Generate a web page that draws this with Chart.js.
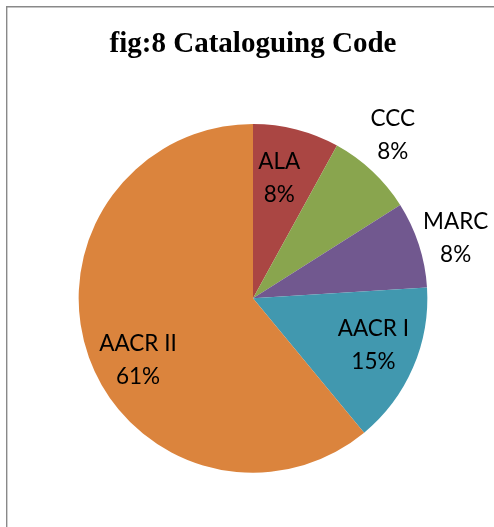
<!DOCTYPE html>
<html>
<head>
<meta charset="utf-8">
<script src="https://cdn.jsdelivr.net/npm/chart.js@4/dist/chart.umd.min.js"></script>
<style>
html,body{margin:0;padding:0;background:#fff;}
#wrap{width:494px;height:527px;position:relative;}
</style>
</head>
<body>
<div id="wrap"><canvas id="c" width="494" height="527"></canvas></div>
<script>
const categories = ["ALA", "CCC", "MARC", "AACR I", "AACR II"];
const percentages = [8, 8, 8, 15, 61];
const sliceColors = ["#AA4643", "#89A54E", "#71588F", "#4198AF", "#DB843D"];
const chartTitle = "fig:8 Cataloguing Code";

// label placement (radius fraction of pie, plus small nudges)
const labelRadius = [0.72, 1.23, 1.21, 0.74, 0.75];
const labelNudgeX = [-5, -7, 2, 2, 8];
const labelNudgeY = [1, -7, 5, -4, 18];

const frame = {
  id: 'frame',
  beforeDraw(chart) {
    const ctx = chart.ctx;
    ctx.save();
    ctx.fillStyle = '#fff';
    ctx.fillRect(0, 0, chart.width, chart.height);
    ctx.strokeStyle = '#898989';
    ctx.lineWidth = 1.4;
    ctx.beginPath();
    ctx.moveTo(6.7, chart.height);
    ctx.lineTo(6.7, 6.7);
    ctx.lineTo(chart.width, 6.7);
    ctx.stroke();
    ctx.restore();
  }
};

const sliceLabels = {
  id: 'sliceLabels',
  afterDatasetsDraw(chart) {
    const ctx = chart.ctx;
    const meta = chart.getDatasetMeta(0);
    ctx.save();
    ctx.fillStyle = '#000';
    ctx.font = '22.5px Lato';
    ctx.textAlign = 'center';
    ctx.textBaseline = 'middle';
    meta.data.forEach((arc, i) => {
      const p = arc.getProps(['x', 'y', 'startAngle', 'endAngle', 'outerRadius'], true);
      const mid = (p.startAngle + p.endAngle) / 2;
      const r = p.outerRadius * labelRadius[i];
      const cx = p.x + Math.cos(mid) * r + labelNudgeX[i];
      const cy = p.y + Math.sin(mid) * r + labelNudgeY[i];
      ctx.fillText(categories[i], cx, cy - 16.5);
      ctx.fillText(percentages[i] + '%', cx, cy + 16.5);
    });
    ctx.restore();
  }
};

new Chart(document.getElementById('c'), {
  type: 'pie',
  data: {
    labels: categories,
    datasets: [{
      data: percentages,
      backgroundColor: sliceColors,
      borderWidth: 0
    }]
  },
  options: {
    responsive: false,
    animation: false,
    layout: { padding: { left: 78.5, right: 66.5, top: 0, bottom: 54.3 } },
    plugins: {
      legend: { display: false },
      tooltip: { enabled: false },
      title: {
        display: true,
        text: chartTitle,
        color: '#000',
        font: { family: 'Liberation Serif', size: 29, weight: 'bold', lineHeight: 1.2 },
        padding: { top: 26.8, bottom: 62.4 }
      }
    }
  },
  plugins: [frame, sliceLabels]
});
</script>
</body>
</html>
